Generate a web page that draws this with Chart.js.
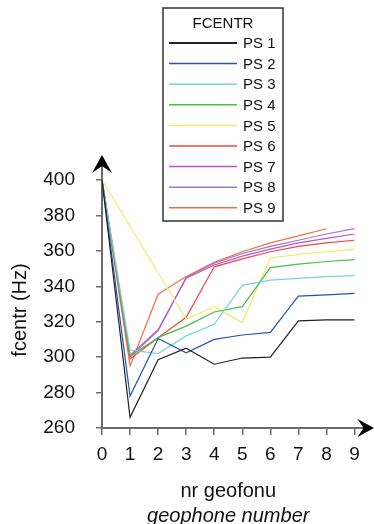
<!DOCTYPE html>
<html>
<head>
<meta charset="utf-8">
<script src="https://cdn.jsdelivr.net/npm/chart.js@4.4.1/dist/chart.umd.min.js"></script>
<style>
  html, body { margin: 0; padding: 0; background: #fff; }
  canvas { display: block; }
</style>
</head>
<body>
<canvas id="fcentrChart" width="374" height="524"></canvas>
<script>
// geophone index along the profile
const geophones = [0, 1, 2, 3, 4, 5, 6, 7, 8, 9];

// centroid frequency (Hz) per shot point
const ps1 = [400, 266, 298.5, 305, 296, 299.5, 300, 320.5, 321, 321];
const ps2 = [400, 278, 310.5, 302.5, 310, 312.5, 314, 334.5, 335.2, 336];
const ps3 = [400, 304, 302, 312, 318.5, 340.5, 343.5, 344.5, 345.5, 346];
const ps4 = [400, 300.5, 311, 317.5, 325.5, 328.5, 350.5, 352.5, 354, 355];
const ps5 = [400, null, null, 321.5, 328.5, 319.5, 356, 358, 359.5, 361];
const ps6 = [400, 299, 311, 322.5, 351, 355.5, 359.5, 362.5, 364.5, 366];
const ps7 = [400, 301, 315.5, 344.5, 352, 357, 361, 364.5, 367, 369.5];
const ps8 = [400, 300, 315, 345, 353, 358.5, 362.5, 366, 369.5, 372.5];
const ps9 = [400, 295, 335.5, 345.5, 353.5, 359.5, 364.5, 368.5, 372.5, null];

const seriesNames = ['PS 1', 'PS 2', 'PS 3', 'PS 4', 'PS 5', 'PS 6', 'PS 7', 'PS 8', 'PS 9'];
const seriesValues = [ps1, ps2, ps3, ps4, ps5, ps6, ps7, ps8, ps9];

const xTicks = [0, 1, 2, 3, 4, 5, 6, 7, 8, 9];
const yTicks = [260, 280, 300, 320, 340, 360, 380, 400];

const lineColors = ['#222222', '#2456b0', '#74d4dc', '#47c047', '#eded6a',
                    '#f24444', '#bb55c6', '#9c78c8', '#ff6a3d'];
const FONT = '"Liberation Sans", Arial, sans-serif';
const AXIS = '#6b6b6b';

// arrowheads, axis titles and the boxed legend
const decor = {
  id: 'decor',
  afterDraw(chart) {
    const { ctx, chartArea: a } = chart;
    ctx.save();

    ctx.strokeStyle = AXIS;
    ctx.lineWidth = 2;
    ctx.beginPath();
    ctx.moveTo(a.left, a.top);
    ctx.lineTo(a.left, a.top - 16);
    ctx.moveTo(a.right, a.bottom);
    ctx.lineTo(a.right + 12, a.bottom);
    ctx.stroke();

    ctx.fillStyle = '#000';
    ctx.beginPath();
    ctx.moveTo(a.left, a.top - 25);
    ctx.lineTo(a.left - 10, a.top - 7);
    ctx.lineTo(a.left, a.top - 14);
    ctx.lineTo(a.left + 10, a.top - 7);
    ctx.closePath();
    ctx.fill();

    ctx.beginPath();
    ctx.moveTo(a.right + 19.5, a.bottom);
    ctx.lineTo(a.right + 3, a.bottom - 9);
    ctx.lineTo(a.right + 9, a.bottom);
    ctx.lineTo(a.right + 3, a.bottom + 9);
    ctx.closePath();
    ctx.fill();

    // axis titles
    ctx.fillStyle = '#111';
    ctx.textAlign = 'center';
    ctx.textBaseline = 'middle';
    ctx.font = '20px ' + FONT;
    ctx.fillText('nr geofonu', (a.left + a.right) / 2, 491);
    ctx.font = 'italic 20px ' + FONT;
    ctx.fillText('geophone number', (a.left + a.right) / 2, 516);

    ctx.save();
    ctx.translate(20, 310);
    ctx.rotate(-Math.PI / 2);
    ctx.font = '20px ' + FONT;
    ctx.fillText('fcentr (Hz)', 0, 0);
    ctx.restore();

    // legend box
    const bx = 163, by = 8, bw = 120, bh = 213;
    ctx.fillStyle = '#fff';
    ctx.fillRect(bx, by, bw, bh);
    ctx.strokeStyle = '#333';
    ctx.lineWidth = 1.5;
    ctx.strokeRect(bx, by, bw, bh);

    ctx.fillStyle = '#111';
    ctx.font = '15px ' + FONT;
    ctx.textAlign = 'center';
    ctx.fillText('FCENTR', bx + 60, by + 16);

    ctx.textAlign = 'left';
    chart.data.datasets.forEach((ds, i) => {
      const ry = by + 35 + i * 20.6;
      ctx.strokeStyle = ds.borderColor;
      ctx.lineWidth = i === 0 ? 2 : 1.5;
      ctx.beginPath();
      ctx.moveTo(bx + 6, ry);
      ctx.lineTo(bx + 74, ry);
      ctx.stroke();
      ctx.fillText(ds.label, bx + 80, ry + 1);
    });

    ctx.restore();
  }
};

const datasets = seriesNames.map((name, i) => ({
  label: name,
  data: geophones.map((g, k) => ({ x: g, y: seriesValues[i][k] })),
  borderColor: lineColors[i],
  borderWidth: 1.2,
  pointRadius: 0,
  tension: 0,
  spanGaps: true,
  clip: false
}));

const ctx = document.getElementById('fcentrChart').getContext('2d');
new Chart(ctx, {
  type: 'line',
  data: { datasets },
  options: {
    responsive: false,
    animation: false,
    devicePixelRatio: 1,
    layout: { padding: { top: 180, right: 19.5, bottom: 0, left: 0 } },
    plugins: { legend: { display: false }, tooltip: { enabled: false } },
    scales: {
      x: {
        type: 'linear',
        min: 0,
        max: 9,
        afterBuildTicks: s => { s.ticks = xTicks.map(v => ({ value: v })); },
        afterFit: s => { s.height = 96; },
        grid: { drawOnChartArea: false, tickLength: 7, color: AXIS, lineWidth: 1.5 },
        border: { color: AXIS, width: 2 },
        ticks: { color: '#111', font: { family: FONT, size: 19 }, padding: 8, maxRotation: 0 }
      },
      y: {
        min: 260,
        max: 400,
        afterBuildTicks: s => { s.ticks = yTicks.map(v => ({ value: v })); },
        afterFit: s => { s.width = 102; },
        grid: { drawOnChartArea: false, tickLength: 6, color: AXIS, lineWidth: 1.5 },
        border: { color: AXIS, width: 2 },
        ticks: { color: '#111', font: { family: FONT, size: 19 }, padding: 21 }
      }
    }
  },
  plugins: [decor]
});
</script>
</body>
</html>
